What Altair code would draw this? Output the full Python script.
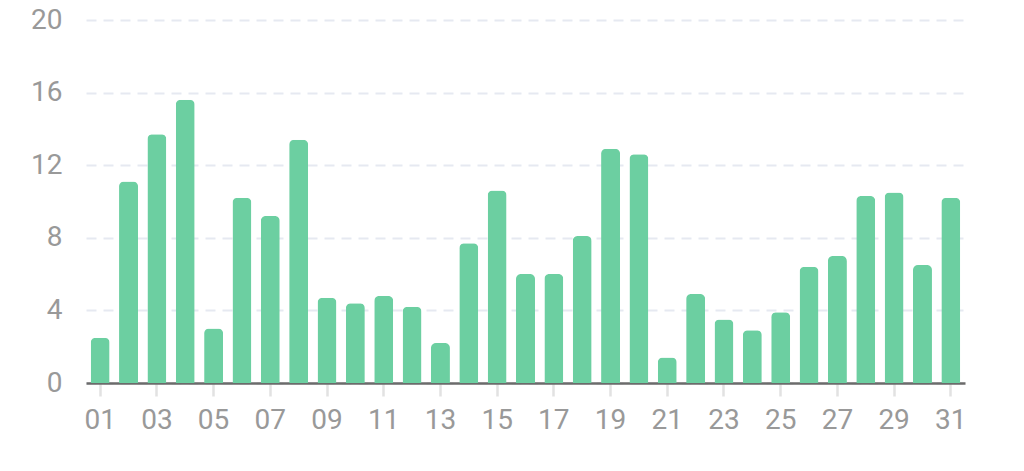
import altair as alt
import pandas as pd

days = [f"{d:02d}" for d in range(1, 32)]
values = [2.5, 11.1, 13.7, 15.6, 3.0, 10.2, 9.2, 13.4, 4.7, 4.4,
          4.8, 4.2, 2.2, 7.7, 10.6, 6.0, 6.0, 8.1, 12.9, 12.6,
          1.4, 4.9, 3.5, 2.9, 3.9, 6.4, 7.0, 10.3, 10.5, 6.5, 10.2]
label_days = [f"{d:02d}" for d in range(1, 32, 2)]
y_ticks = [0, 4, 8, 12, 16, 20]

df = pd.DataFrame({"day": days, "value": values})

chart = alt.Chart(df).mark_bar(
    color="#6ccfa1",
    cornerRadiusTopLeft=5,
    cornerRadiusTopRight=5,
).encode(
    x=alt.X("day:O", sort=days,
            scale=alt.Scale(paddingInner=0.33, paddingOuter=0.165),
            axis=alt.Axis(title=None, values=label_days, labelAngle=0,
                          labelFont="Roboto", labelFontSize=28, labelColor="#999999",
                          labelPadding=10, tickColor="#e2e2e2", tickWidth=2.5, tickSize=13,
                          domainColor="#6b6b6b", domainWidth=2.5, grid=False)),
    y=alt.Y("value:Q",
            scale=alt.Scale(domain=[0, 20], nice=False),
            axis=alt.Axis(title=None, values=y_ticks, labelFont="Roboto",
                          labelFontSize=28, labelColor="#999999", labelPadding=24,
                          domain=False, ticks=False, grid=True,
                          gridColor="#e6e9f1", gridWidth=2, gridDash=[10, 7])),
).properties(
    width=879,
    height=363,
    padding={"left": 78, "top": 12, "right": 30, "bottom": 70},
    autosize=alt.AutoSizeParams(type="none"),
    background="#ffffff",
).configure_view(stroke="transparent", strokeWidth=0)

chart.save("out.html", embed_options={"renderer": "svg", "actions": False})
